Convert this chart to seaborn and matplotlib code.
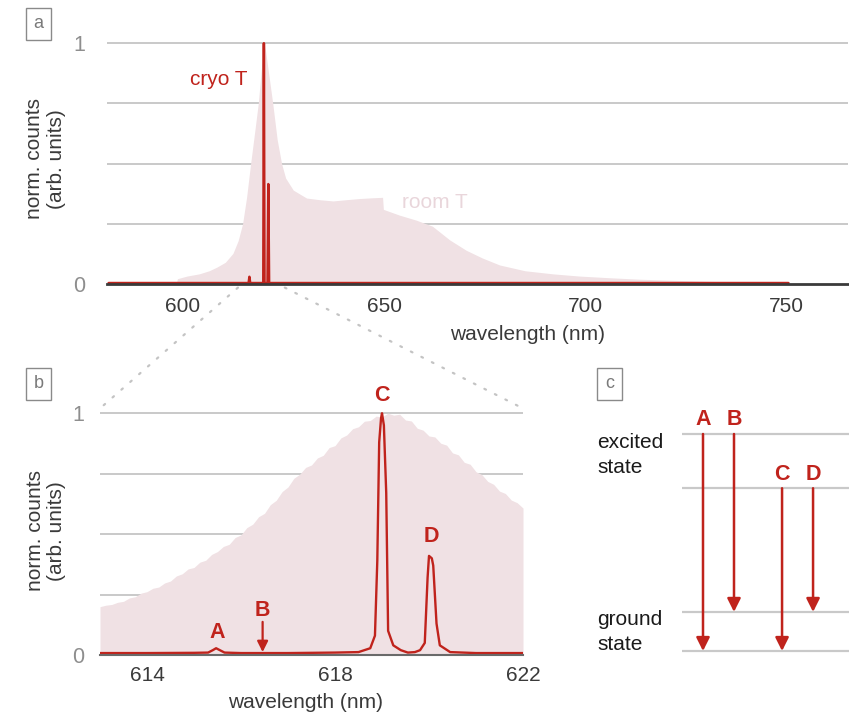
import matplotlib
matplotlib.use("Agg")
import matplotlib.pyplot as plt
from matplotlib.patches import ConnectionPatch
import seaborn as sns

# ---------------- data ----------------
# room-temperature spectrum, full range (nm, normalised counts)
room_wl = [598.3, 598.6, 601.0, 604.0, 606.5, 608.4, 610.5, 612.4, 613.7, 614.8,
           615.8, 616.8, 617.8, 618.7, 619.4, 620.0, 620.15, 620.5, 621.4, 622.3,
           623.4, 624.5, 625.5, 627.4, 630.7, 634.0, 637.3, 640.5, 643.9, 647.0,
           649.6, 649.8, 653.8, 658.0, 662.0, 666.3, 670.4, 674.4, 678.7, 685.0,
           692.0, 698.5, 706.0, 713.4, 728.3, 743.2, 748.0]
room_counts = [0.0, 0.022, 0.033, 0.042, 0.055, 0.07, 0.09, 0.127, 0.18, 0.25,
               0.36, 0.5, 0.63, 0.75, 0.88, 0.98, 1.0, 0.97, 0.86, 0.75,
               0.6, 0.5, 0.44, 0.39, 0.357, 0.35, 0.345, 0.35, 0.355, 0.358,
               0.36, 0.31, 0.286, 0.265, 0.24, 0.183, 0.14, 0.108, 0.079, 0.055,
               0.042, 0.033, 0.026, 0.02, 0.012, 0.005, 0.0]

# cryogenic spectrum, full range
cryo_wl = [581.5, 616.3, 616.5, 616.7, 619.95, 620.1, 620.25, 621.0, 621.2, 621.4, 750.5]
cryo_counts = [0.004, 0.004, 0.03, 0.004, 0.004, 1.0, 0.004, 0.004, 0.415, 0.004, 0.004]

# zoomed window 613-622 nm
zoom_room_wl = [613.0, 613.125, 613.25, 613.375, 613.5, 613.625, 613.75, 613.875,
                614.0, 614.125, 614.25, 614.375, 614.5, 614.625, 614.75, 614.875,
                615.0, 615.125, 615.25, 615.375, 615.5, 615.625, 615.75, 615.875,
                616.0, 616.125, 616.25, 616.375, 616.5, 616.625, 616.75, 616.875,
                617.0, 617.125, 617.25, 617.375, 617.5, 617.625, 617.75, 617.875,
                618.0, 618.125, 618.25, 618.375, 618.5, 618.625, 618.75, 618.875,
                619.0, 619.125, 619.25, 619.375, 619.5, 619.625, 619.75, 619.875,
                620.0, 620.125, 620.25, 620.375, 620.5, 620.625, 620.75, 620.875,
                621.0, 621.125, 621.25, 621.375, 621.5, 621.625, 621.75, 621.875, 622.0]
zoom_room_counts = [0.200, 0.206, 0.209, 0.218, 0.222, 0.236, 0.241, 0.256,
                    0.262, 0.276, 0.281, 0.298, 0.306, 0.327, 0.336, 0.356,
                    0.362, 0.384, 0.392, 0.416, 0.428, 0.449, 0.458, 0.486,
                    0.497, 0.527, 0.541, 0.572, 0.586, 0.622, 0.640, 0.676,
                    0.695, 0.731, 0.748, 0.776, 0.786, 0.815, 0.826, 0.858,
                    0.866, 0.898, 0.910, 0.936, 0.944, 0.967, 0.970, 0.988,
                    0.985, 1.000, 0.992, 0.996, 0.972, 0.968, 0.938, 0.930,
                    0.906, 0.902, 0.876, 0.868, 0.836, 0.828, 0.797, 0.789,
                    0.758, 0.746, 0.718, 0.706, 0.678, 0.668, 0.641, 0.630, 0.608]

zoom_cryo_wl = [613.0, 614.0, 615.0, 615.3, 615.4, 615.47, 615.55, 615.65, 616.0, 617.0,
                618.0, 618.5, 618.75, 618.85, 618.9, 618.94, 618.98, 619.0, 619.04, 619.09,
                619.13, 619.24, 619.4, 619.55, 619.7, 619.81, 619.91, 619.97, 620.0, 620.06,
                620.09, 620.16, 620.23, 620.45, 621.0, 622.0]
zoom_cryo_counts = [0.008, 0.008, 0.009, 0.01, 0.02, 0.028, 0.02, 0.01, 0.008, 0.008,
                    0.01, 0.012, 0.028, 0.08, 0.39, 0.88, 0.98, 1.0, 0.95, 0.67,
                    0.1, 0.04, 0.02, 0.01, 0.012, 0.02, 0.05, 0.32, 0.41, 0.40,
                    0.37, 0.13, 0.04, 0.012, 0.008, 0.008]

# peak labels in the zoomed window
peak_names = ["A", "B", "C", "D"]
peak_wl = [615.5, 616.46, 619.0, 620.05]
peak_heights = [0.028, 0.008, 1.0, 0.41]

# energy-level scheme (arbitrary energy units)
level_energy = [0.0, 0.18, 0.75, 1.0]
transition_upper = [1.0, 1.0, 0.75, 0.75]
transition_lower = [0.0, 0.18, 0.0, 0.18]

# ---------------- style ----------------
sns.set_style("white")
plt.rcParams["font.family"] = ["Liberation Sans", "DejaVu Sans"]

RED = "#c0231c"
PINK = "#f0e1e4"
GRID = "#c9c9c9"
TXT = "#3a3a3a"
LIGHT = "#8e8e8e"

W, H = 849, 715
fig = plt.figure(figsize=(W / 100, H / 100), dpi=100)


def rect(x0, y_top, x1, y_bot):
    return [x0 / W, 1 - y_bot / H, (x1 - x0) / W, (y_bot - y_top) / H]


def style_spectrum_axis(ax, spine_color, spine_w):
    ax.set_ylim(0, 1.03)
    ax.set_yticks([0, 1])
    ax.set_yticklabels(["0", "1"])
    for y in [0.25, 0.5, 0.75, 1.0]:
        ax.axhline(y, color=GRID, lw=1.4, zorder=0.5)
    for s in ["top", "right", "left"]:
        ax.spines[s].set_visible(False)
    ax.spines["bottom"].set_color(spine_color)
    ax.spines["bottom"].set_linewidth(spine_w)
    ax.spines["bottom"].set_zorder(5)
    ax.tick_params(axis="y", length=0, labelsize=15.5, labelcolor=LIGHT)
    ax.tick_params(axis="x", labelsize=15, labelcolor=TXT)
    ax.set_facecolor("none")


# ---------------- panel a ----------------
ax_a = fig.add_axes(rect(107, 36, 848, 284))
ax_a.fill_between(room_wl, 0, room_counts, color=PINK, lw=0, zorder=1)
sns.lineplot(x=cryo_wl, y=cryo_counts, ax=ax_a, color=RED, lw=1.8,
             estimator=None, sort=False, zorder=3)
ax_a.set_xlim(581.1, 765.3)
ax_a.set_xticks([600, 650, 700, 750])
style_spectrum_axis(ax_a, "#3a3a3a", 2.0)
ax_a.tick_params(axis="x", length=0, pad=9)
ax_a.tick_params(axis="y", pad=16)
ax_a.set_xlabel("wavelength (nm)", fontsize=15, color=TXT)
ax_a.xaxis.label.set_va("center")
ax_a.xaxis.set_label_coords(0.568, -0.205)
ax_a.set_ylabel("norm. counts\n(arb. units)", fontsize=15, color=TXT, linespacing=1.15)
ax_a.yaxis.label.set_va("center")
ax_a.yaxis.set_label_coords(-0.083, 0.505)
ax_a.text(609.0, 0.85, "cryo T", color=RED, fontsize=15, ha="center", va="center")
ax_a.text(662.5, 0.34, "room T", color="#e9d6db", fontsize=15, ha="center", va="center")

# ---------------- panel b ----------------
ax_b = fig.add_axes(rect(100, 406, 523, 655))
ax_b.fill_between(zoom_room_wl, 0, zoom_room_counts, color=PINK, lw=0, zorder=1)
sns.lineplot(x=zoom_cryo_wl, y=zoom_cryo_counts, ax=ax_b, color=RED, lw=1.7,
             estimator=None, sort=False, zorder=3)
ax_b.set_xlim(613.0, 622.0)
ax_b.set_xticks([614, 618, 622])
ax_b.set_xticks(range(614, 623), minor=True)
style_spectrum_axis(ax_b, "#6a6a6a", 1.5)
ax_b.tick_params(axis="x", which="both", direction="in", length=3, width=1.6,
                 color="#333333", pad=8)
ax_b.tick_params(axis="y", pad=11)
ax_b.set_xlabel("wavelength (nm)", fontsize=15, color=TXT)
ax_b.xaxis.label.set_va("center")
ax_b.xaxis.set_label_coords(0.487, -0.189)
ax_b.set_ylabel("norm. counts\n(arb. units)", fontsize=15, color=TXT, linespacing=1.15)
ax_b.yaxis.label.set_va("center")
ax_b.yaxis.set_label_coords(-0.128, 0.498)

label_kw = dict(color=RED, fontsize=15.5, fontweight="bold", ha="center", va="center")
ax_b.text(peak_wl[0], peak_heights[0] + 0.067, peak_names[0], **label_kw)
ax_b.annotate("", xy=(peak_wl[1], peak_heights[1] + 0.004),
              xytext=(peak_wl[1], 0.137),
              arrowprops=dict(arrowstyle="-|>", color=RED, lw=1.6,
                              mutation_scale=16, shrinkA=0, shrinkB=0))
ax_b.text(peak_wl[1], 0.186, peak_names[1], **label_kw)
ax_b.text(peak_wl[2], peak_heights[2] + 0.074, peak_names[2], **label_kw)
ax_b.text(peak_wl[3], peak_heights[3] + 0.08, peak_names[3], **label_kw)

# dotted zoom guides from panel a to panel b
for xa, xb in [(613.65, 613.0), (625.3, 622.0)]:
    con = ConnectionPatch(xyA=(xa, -0.015), coordsA=ax_a.transData,
                          xyB=(xb, 1.02), coordsB=ax_b.transData,
                          color="#c4c4c4", lw=1.6, linestyle=(0, (0.8, 4.5)),
                          capstyle="round")
    fig.add_artist(con)

# ---------------- panel c ----------------
ax_c = fig.add_axes(rect(570, 400, 849, 670))
unit = 31.0  # px per horizontal step
ax_c.set_xlim(-(703 - 570) / unit, (849 - 703) / unit)
ax_c.set_ylim(-(670 - 651) / 217.0, (651 - 400) / 217.0)
ax_c.axis("off")
trans_x = [0.0, 1.0, 2.55, 3.55]
for e in level_energy:
    ax_c.plot([-(703 - 682) / unit, (849 - 703) / unit], [e, e], color=GRID, lw=1.6,
              solid_capstyle="butt", zorder=1)
for name, x, e_hi, e_lo in zip(peak_names, trans_x, transition_upper, transition_lower):
    ax_c.annotate("", xy=(x, e_lo), xytext=(x, e_hi),
                  arrowprops=dict(arrowstyle="-|>", color=RED, lw=1.8,
                                  mutation_scale=20, shrinkA=0, shrinkB=0), zorder=3)
    ax_c.text(x, e_hi + 0.065, name, color=RED, fontsize=15.5, fontweight="bold",
              ha="center", va="center")
ax_c.text(-3.42, 0.905, "excited\nstate", fontsize=15, color="#1a1a1a",
          ha="left", va="center", linespacing=1.4)
ax_c.text(-3.42, 0.088, "ground\nstate", fontsize=15, color="#1a1a1a",
          ha="left", va="center", linespacing=1.4)

# ---------------- panel letters ----------------
for letter, (px, py) in zip(["a", "b", "c"], [(38.5, 24), (38.5, 384), (609.5, 384)]):
    fig.text(px / W, 1 - py / H, letter, fontsize=13, color="#7a7a7a",
             ha="center", va="center",
             bbox=dict(boxstyle="square,pad=0.42", fc="white", ec="#8a8a8a", lw=1.0))

fig.savefig("out.png", dpi=100)
